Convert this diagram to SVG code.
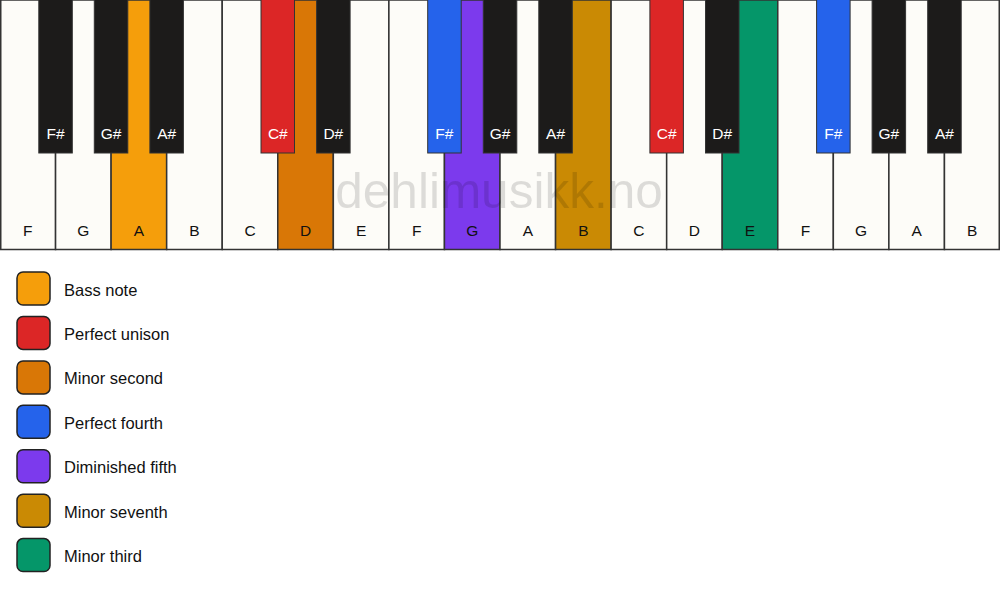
<svg xmlns="http://www.w3.org/2000/svg" width="1000" height="594" viewBox="0 0 1000 594">
<style>
.w{fill:#fdfcf8;stroke:#333;stroke-width:1.5}
.b{fill:#1c1b1a;stroke:#333;stroke-width:1}
.wl{font-family:"Liberation Sans",Arial,sans-serif;font-size:15.5px;fill:#111;text-anchor:middle}
.bl{font-family:"Liberation Sans",Arial,sans-serif;font-size:15.5px;fill:#fff;text-anchor:middle}
.lg{stroke:#222;stroke-width:1.5}
.lt{font-family:"Liberation Sans",Arial,sans-serif;font-size:16.5px;fill:#111}
.wm{font-family:"Liberation Sans",Arial,sans-serif;font-size:49.5px;fill:#000;fill-opacity:0.13;text-anchor:middle}
</style>
<rect width="1000" height="594" fill="#ffffff"/>
<g id="white-keys">
<g id="wk-F1"><rect class="w" x="0.75" y="0" width="54.81" height="249.5"/><text class="wl" x="27.8" y="236">F</text></g>
<g id="wk-G1"><rect class="w" x="55.56" y="0" width="55.56" height="249.5"/><text class="wl" x="83.3" y="236">G</text></g>
<g id="wk-A1"><rect class="w" x="111.11" y="0" width="55.56" height="249.5" style="fill:#f59e0b"/><text class="wl" x="138.9" y="236">A</text></g>
<g id="wk-B1"><rect class="w" x="166.67" y="0" width="55.56" height="249.5"/><text class="wl" x="194.4" y="236">B</text></g>
<g id="wk-C1"><rect class="w" x="222.22" y="0" width="55.56" height="249.5"/><text class="wl" x="250" y="236">C</text></g>
<g id="wk-D1"><rect class="w" x="277.78" y="0" width="55.56" height="249.5" style="fill:#d97706"/><text class="wl" x="305.6" y="236">D</text></g>
<g id="wk-E1"><rect class="w" x="333.33" y="0" width="55.56" height="249.5"/><text class="wl" x="361.1" y="236">E</text></g>
<g id="wk-F2"><rect class="w" x="388.89" y="0" width="55.56" height="249.5"/><text class="wl" x="416.7" y="236">F</text></g>
<g id="wk-G2"><rect class="w" x="444.44" y="0" width="55.56" height="249.5" style="fill:#7c3aed"/><text class="wl" x="472.2" y="236">G</text></g>
<g id="wk-A2"><rect class="w" x="500" y="0" width="55.56" height="249.5"/><text class="wl" x="527.8" y="236">A</text></g>
<g id="wk-B2"><rect class="w" x="555.56" y="0" width="55.56" height="249.5" style="fill:#ca8a04"/><text class="wl" x="583.3" y="236">B</text></g>
<g id="wk-C2"><rect class="w" x="611.11" y="0" width="55.56" height="249.5"/><text class="wl" x="638.9" y="236">C</text></g>
<g id="wk-D2"><rect class="w" x="666.67" y="0" width="55.56" height="249.5"/><text class="wl" x="694.4" y="236">D</text></g>
<g id="wk-E2"><rect class="w" x="722.22" y="0" width="55.56" height="249.5" style="fill:#059669"/><text class="wl" x="750" y="236">E</text></g>
<g id="wk-F3"><rect class="w" x="777.78" y="0" width="55.56" height="249.5"/><text class="wl" x="805.6" y="236">F</text></g>
<g id="wk-G3"><rect class="w" x="833.33" y="0" width="55.56" height="249.5"/><text class="wl" x="861.1" y="236">G</text></g>
<g id="wk-A3"><rect class="w" x="888.89" y="0" width="55.56" height="249.5"/><text class="wl" x="916.7" y="236">A</text></g>
<g id="wk-B3"><rect class="w" x="944.44" y="0" width="54.81" height="249.5"/><text class="wl" x="972.2" y="236">B</text></g>
</g>
<text class="wm" x="499" y="208">dehlimusikk.no</text>
<g id="black-keys">
<g id="bk-Fs1"><rect class="b" x="38.8" y="-1" width="33.5" height="154"/><text class="bl" x="55.6" y="138.5">F#</text></g>
<g id="bk-Gs1"><rect class="b" x="94.3" y="-1" width="33.5" height="154"/><text class="bl" x="111.1" y="138.5">G#</text></g>
<g id="bk-As1"><rect class="b" x="149.9" y="-1" width="33.5" height="154"/><text class="bl" x="166.7" y="138.5">A#</text></g>
<g id="bk-Cs1"><rect class="b" x="261" y="-1" width="33.5" height="154" style="fill:#dc2626"/><text class="bl" x="277.8" y="138.5">C#</text></g>
<g id="bk-Ds1"><rect class="b" x="316.6" y="-1" width="33.5" height="154"/><text class="bl" x="333.3" y="138.5">D#</text></g>
<g id="bk-Fs2"><rect class="b" x="427.7" y="-1" width="33.5" height="154" style="fill:#2563eb"/><text class="bl" x="444.4" y="138.5">F#</text></g>
<g id="bk-Gs2"><rect class="b" x="483.3" y="-1" width="33.5" height="154"/><text class="bl" x="500" y="138.5">G#</text></g>
<g id="bk-As2"><rect class="b" x="538.8" y="-1" width="33.5" height="154"/><text class="bl" x="555.6" y="138.5">A#</text></g>
<g id="bk-Cs2"><rect class="b" x="649.9" y="-1" width="33.5" height="154" style="fill:#dc2626"/><text class="bl" x="666.7" y="138.5">C#</text></g>
<g id="bk-Ds2"><rect class="b" x="705.5" y="-1" width="33.5" height="154"/><text class="bl" x="722.2" y="138.5">D#</text></g>
<g id="bk-Fs3"><rect class="b" x="816.6" y="-1" width="33.5" height="154" style="fill:#2563eb"/><text class="bl" x="833.3" y="138.5">F#</text></g>
<g id="bk-Gs3"><rect class="b" x="872.1" y="-1" width="33.5" height="154"/><text class="bl" x="888.9" y="138.5">G#</text></g>
<g id="bk-As3"><rect class="b" x="927.7" y="-1" width="33.5" height="154"/><text class="bl" x="944.4" y="138.5">A#</text></g>
</g>
<g id="legend">
<g id="lg-bass"><rect class="lg" x="17" y="272" width="33" height="33" rx="6" fill="#f59e0b"/><text class="lt" x="64" y="295.5">Bass note</text></g>
<g id="lg-unison"><rect class="lg" x="17" y="316.4" width="33" height="33" rx="6" fill="#dc2626"/><text class="lt" x="64" y="339.9">Perfect unison</text></g>
<g id="lg-min2"><rect class="lg" x="17" y="360.9" width="33" height="33" rx="6" fill="#d97706"/><text class="lt" x="64" y="384.4">Minor second</text></g>
<g id="lg-p4"><rect class="lg" x="17" y="405.3" width="33" height="33" rx="6" fill="#2563eb"/><text class="lt" x="64" y="428.8">Perfect fourth</text></g>
<g id="lg-d5"><rect class="lg" x="17" y="449.7" width="33" height="33" rx="6" fill="#7c3aed"/><text class="lt" x="64" y="473.2">Diminished fifth</text></g>
<g id="lg-m7"><rect class="lg" x="17" y="494.2" width="33" height="33" rx="6" fill="#ca8a04"/><text class="lt" x="64" y="517.7">Minor seventh</text></g>
<g id="lg-m3"><rect class="lg" x="17" y="538.6" width="33" height="33" rx="6" fill="#059669"/><text class="lt" x="64" y="562.1">Minor third</text></g>
</g>
</svg>
